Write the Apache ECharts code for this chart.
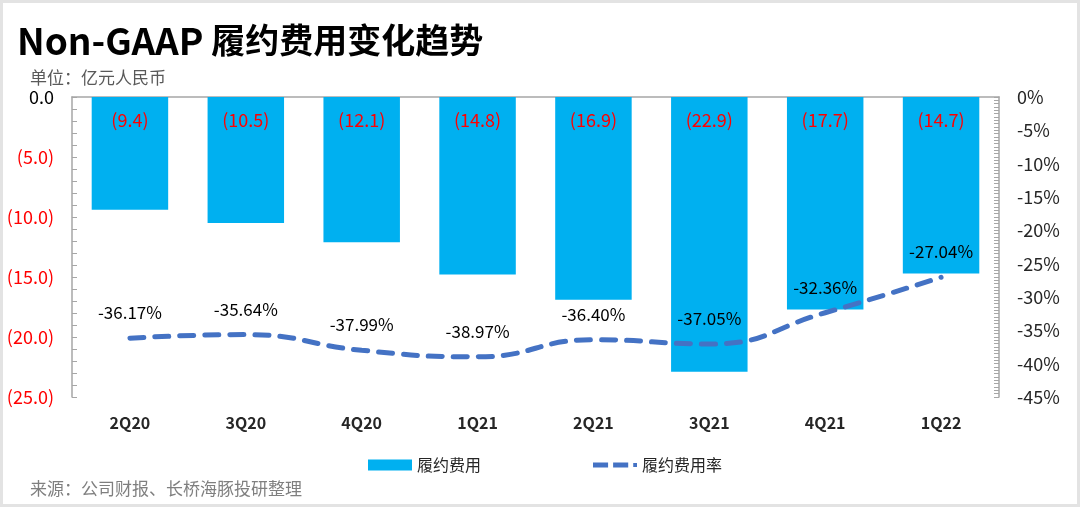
<!DOCTYPE html>
<html>
<head>
<meta charset="utf-8">
<script src="https://cdn.jsdelivr.net/npm/echarts@6/dist/echarts.min.js"></script>
<style>
html,body{margin:0;padding:0;background:#fff;}
#frame{position:absolute;left:0;top:0;width:1080px;height:507px;box-sizing:border-box;border:3px solid #e3e3e3;}
#chart{position:absolute;left:0;top:0;width:1080px;height:507px;}
</style>
</head>
<body>
<div id="chart"></div>
<div id="frame"></div>
<script>
const categories = ['2Q20','3Q20','4Q20','1Q21','2Q21','3Q21','4Q21','1Q22'];
const expense = [-9.4, -10.5, -12.1, -14.8, -16.9, -22.9, -17.7, -14.7];
const expenseRate = [-36.17, -35.64, -37.99, -38.97, -36.40, -37.05, -32.36, -27.04];
const leftTicks = {min: -25, max: 0, interval: 5};
const rightTicks = {min: -45, max: 0, interval: 5};

const FONT = '"Noto Sans CJK SC", "Noto Sans", sans-serif';
const chart = echarts.init(document.getElementById('chart'), null, {renderer: 'canvas'});

const option = {
  backgroundColor: '#ffffff',
  textStyle: {fontFamily: FONT},
  animation: false,
  title: [
    {text: '{a|Non-GAAP} {b|履约费用变化趋势}', left: 12, top: 17,
     textStyle: {fontFamily: FONT, fontSize: 34, fontWeight: 'bold', color: '#000000',
       rich: {
         a: {fontFamily: FONT, fontSize: 37, fontWeight: 'bold', color: '#000000'},
         b: {fontFamily: FONT, fontSize: 34, fontWeight: 'bold', color: '#000000'}
       }}},
    {text: '单位：亿元人民币', left: 25, top: 64,
     textStyle: {fontFamily: FONT, fontSize: 17, fontWeight: 'normal', color: '#595959'}},
    {text: '来源：公司财报、长桥海豚投研整理', left: 25, top: 475,
     textStyle: {fontFamily: FONT, fontSize: 17, fontWeight: 'normal', color: '#7f7f7f'}}
  ],
  legend: {
    left: 363, top: 452,
    itemWidth: 44, itemHeight: 11, itemGap: 112,
    textStyle: {fontFamily: FONT, fontSize: 16, color: '#262626'},
    data: [
      {name: '履约费用', icon: 'rect'},
      {name: '履约费用率', icon: 'path://M0,0h12v4h-12z M16,0h12v4h-12z M32,0.5h3v3h-3z',
       itemStyle: {color: '#4472c4'}}
    ]
  },
  grid: {left: 72, right: 81, top: 97, bottom: 110, containLabel: false},
  xAxis: [
    {type: 'category', data: categories, position: 'bottom',
     axisLine: {show: false, onZero: false}, axisTick: {show: false},
     axisLabel: {fontFamily: FONT, fontSize: 16, fontWeight: 'bold', color: '#262626', margin: 18}},
    {type: 'category', data: categories, position: 'top',
     axisLine: {show: true, onZero: false, lineStyle: {color: '#a6a6a6', width: 1.5}},
     axisTick: {show: false}, axisLabel: {show: false}}
  ],
  yAxis: [
    {type: 'value', min: leftTicks.min, max: leftTicks.max, interval: leftTicks.interval, position: 'left',
     axisLine: {show: true, lineStyle: {color: '#a6a6a6', width: 1.5}},
     axisTick: {show: true, inside: true, length: 5, lineStyle: {color: '#a6a6a6'}},
     minorTick: {show: true, splitNumber: 5, length: 5, lineStyle: {color: '#a6a6a6'}},
     splitLine: {show: false},
     axisLabel: {fontFamily: FONT, fontSize: 18, margin: 18,
       color: function (v) { return v < 0 ? '#ff0000' : '#000000'; },
       formatter: function (v) { return v < 0 ? '(' + Math.abs(v).toFixed(1) + ')' : v.toFixed(1); }}},
    {type: 'value', min: rightTicks.min, max: rightTicks.max, interval: rightTicks.interval, position: 'right',
     axisLine: {show: true, lineStyle: {color: '#a6a6a6', width: 1.5}},
     axisTick: {show: true, inside: true, length: 5, lineStyle: {color: '#a6a6a6'}},
     minorTick: {show: true, splitNumber: 10, length: 5, lineStyle: {color: '#a6a6a6'}},
     splitLine: {show: false},
     axisLabel: {fontFamily: FONT, fontSize: 18, margin: 18, color: '#262626',
       formatter: function (v) { return v + '%'; }}}
  ],
  series: [
    {name: '履约费用', type: 'bar', data: expense, yAxisIndex: 0, xAxisIndex: 0,
     barWidth: '66%',
     itemStyle: {color: '#00b0f0'},
     label: {show: true, position: 'insideTop', distance: 14, color: '#ff0000',
       fontFamily: FONT, fontSize: 18,
       formatter: function (p) { return '(' + Math.abs(p.value).toFixed(1) + ')'; }}},
    {name: '履约费用率', type: 'line', data: expenseRate, yAxisIndex: 1, xAxisIndex: 0,
     smooth: 0.5, symbol: 'circle', symbolSize: 0.01, showSymbol: true,
     lineStyle: {color: '#4472c4', width: 5, type: [14, 11], cap: 'round'},
     itemStyle: {color: '#4472c4'},
     label: {show: true, position: 'top', distance: 17, color: '#000000',
       fontFamily: FONT, fontSize: 17,
       formatter: function (p) { return p.value.toFixed(2) + '%'; }}}
  ]
};
chart.setOption(option);
</script>
</body>
</html>
